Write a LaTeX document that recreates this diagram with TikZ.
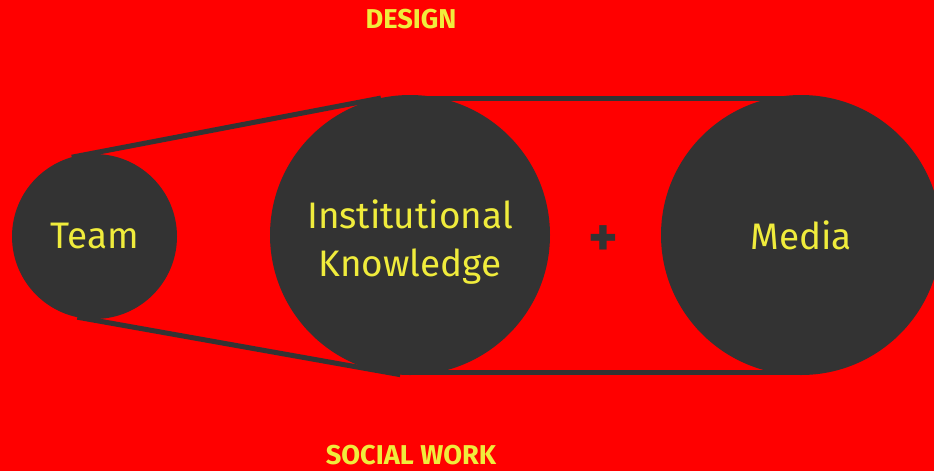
\documentclass[tikz,border=0pt]{standalone}
\usepackage{fontspec}
\setmainfont{Fira Sans}
\usetikzlibrary{backgrounds}
\definecolor{belt}{HTML}{333333}
\definecolor{bg}{HTML}{FF0000}
\definecolor{txt}{HTML}{F0EC3C}
\begin{document}
\begin{tikzpicture}[x=0.02cm, y=-0.02cm,
    wheel/.style={circle, fill=belt, text=txt, align=center, inner sep=0pt, outer sep=0pt,
      font=\fontsize{21}{26.5}\selectfont},
    side/.style={text=txt, font=\fontsize{15.5}{16}\selectfont\bfseries},
    strap/.style={draw=belt, line width=5*0.02cm}]
        \clip (0,0) rectangle (934,471);
        \node[wheel, minimum size=165*0.02cm](Team) at (94.5,236.5) {Team};
        \node[wheel, minimum size=280*0.02cm,
          label={[text=txt, align=center, font=\fontsize{21}{26.8}\selectfont, yshift=-7*0.02cm]center:Institutional\\Knowledge}]
          (Institutional knowledge) at (410,235) {};
        \node[wheel, minimum size=280*0.02cm](Media) at (801,235) {Media};

        \node[text=belt, font=\fontsize{32}{32}\selectfont\bfseries](Plus) at (603,241) {+};
        \node[side](Design) at (411,19) {DESIGN};
        \node[side](Social work) at (411,455) {SOCIAL WORK};

        \begin{scope}[on background layer]
        \fill[bg] (0,0) rectangle (934,471);
        \draw[strap] (Team.106) -- (Institutional knowledge.102);
        \draw[strap] (Team.258) -- (Institutional knowledge.266);
        \draw[strap] ([yshift=-3.5*0.02cm]Institutional knowledge.north) -- ([yshift=-3.5*0.02cm]Media.north);
        \draw[strap] ([yshift=3*0.02cm]Institutional knowledge.south) -- ([yshift=3*0.02cm]Media.south);
        \end{scope}
    \end{tikzpicture}
\end{document}
